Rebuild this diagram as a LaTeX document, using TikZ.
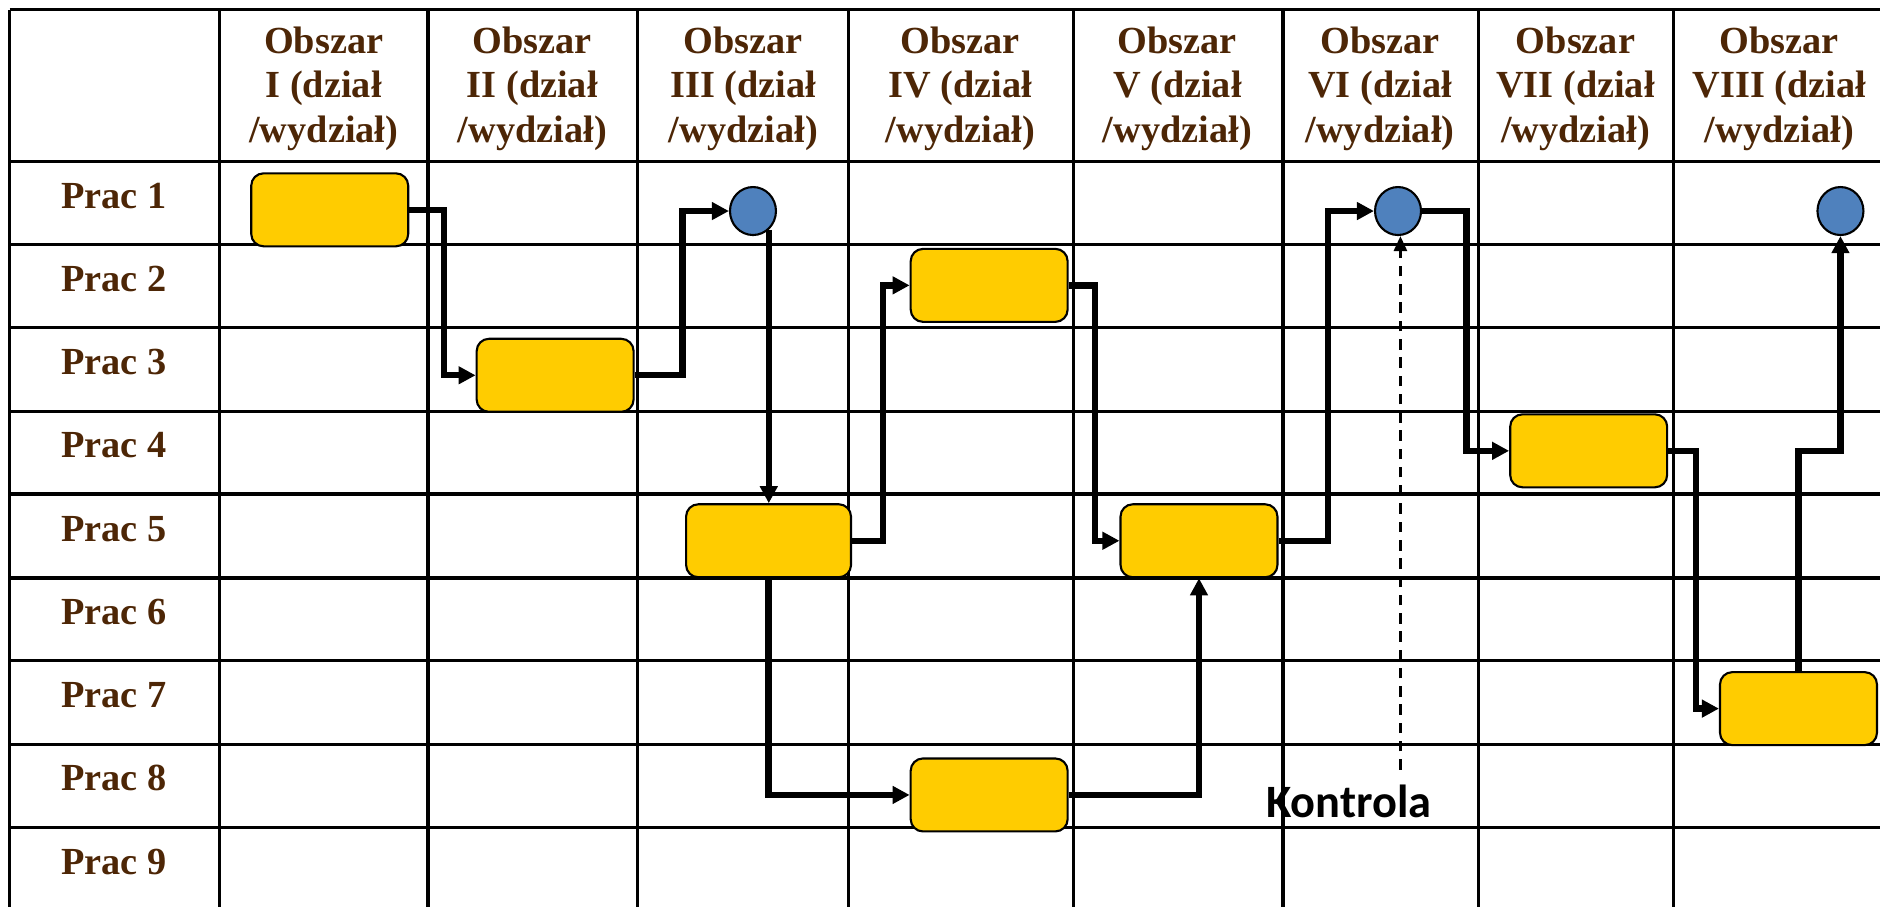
\documentclass[tikz,border=0pt]{standalone}
\usepackage{fontspec}
\setmainfont{Liberation Serif}
\newfontfamily\kontrolafont{Carlito}
\usepackage{tikz}
\usetikzlibrary{shapes, arrows.meta, positioning, calc}
\definecolor{headbrown}{RGB}{77, 38, 6}
\definecolor{taskyellow}{RGB}{255, 204, 0}
\definecolor{pointblue}{RGB}{79, 129, 189}

\begin{document}
\begin{tikzpicture}[x=0.01199cm, y=-0.01199cm,
  gridline/.style={draw=black, line width=0.9pt},
  head/.style={font=\bfseries\fontsize{10.9}{12.6}\selectfont, text=headbrown, align=center},
  task/.style={draw=black, line width=0.6pt, fill=taskyellow, rounded corners=3.5pt, minimum width=1.57cm, minimum height=0.73cm, inner sep=0pt},
  point/.style={ellipse, draw=black, line width=0.6pt, fill=pointblue, minimum width=0.46cm, minimum height=0.48cm, inner sep=0pt},
  flow/.style={line width=1.8pt, -{Triangle[length=1.7mm, width=1.7mm]}},
  checkline/.style={line width=0.8pt, dash pattern=on 3pt off 2.2pt, -{Triangle[length=1.5mm, width=1.3mm]}}]
  \useasboundingbox (0,0) rectangle (1568,756);
  \clip (0,0) rectangle (1568,756);

  % Table
  \foreach \gx in {8,183,357,532,708,895,1070,1233,1396,1572}
    \draw[gridline] (\gx,8) -- (\gx,762);
  \foreach \gy in {8,135,204,273,343,412,482,551,621,690,760}
    \draw[gridline] (8,\gy) -- (1572,\gy);

  % Column and row heads
  \foreach \hx/\num [count=\i] in {270/I, 444/II, 620/III, 801/IV, 982/V, 1151/VI, 1314/VII, 1484/VIII}
    \node[head] (obszar\i) at (\hx,74) {Obszar\\\num\ (dział\\/wydział)};
  \foreach \i in {1,...,9}
    \node[head] (prac\i) at (95,{94+69.4*\i}) {Prac \i};

  % Tasks and points
  \node[task] (b1) at (275,175) {};
  \node[task] (b2) at (463,313) {};
  \node[task, minimum width=1.65cm] (b3) at (641,451) {};
  \node[task] (b4) at (825,238) {};
  \node[task] (b5) at (825,663) {};
  \node[task] (b6) at (1000,451) {};
  \node[task] (b7) at (1325,376) {};
  \node[task] (b8) at (1500,591) {};
  \node[point] (c1) at (628,176) {};
  \node[point] (c2) at (1166,176) {};
  \node[point] (c3) at (1535,176) {};

  % Flow
  \draw[flow] (b1.east) -- ++(29,0) |- (b2.west);
  \draw[flow] (b2.east) -- ++(40,0) |- (c1.west);
  \draw[flow] (c1.-50) -- (c1.-50 |- b3.north);
  \draw[flow] (b3.east) -- ++(26,0) |- (b4.west);
  \draw[flow] (b3.south) |- (b5.west);
  \draw[flow] (b4.east) -- ++(22,0) |- (b6.west);
  \draw[flow] (b5.east) -| (b6.south);
  \draw[flow] (b6.east) -- ++(41,0) |- (c2.west);
  \draw[flow] (c2.east) -- ++(37,0) |- (b7.west);
  \draw[flow] (b7.east) -- ++(23,0) |- (b8.west);
  \draw[flow] (b8.north) -- (b8.north |- b7.east) -| (c3.south);

  % Control
  \node[font=\kontrolafont\bfseries\fontsize{13.2}{15}\selectfont] (kontrola) at (1125,668) {Kontrola};
  \coordinate (kontrolatop) at (1168,642);
  \draw[checkline] (kontrolatop) -- (kontrolatop |- c2.south);
\end{tikzpicture}
\end{document}
